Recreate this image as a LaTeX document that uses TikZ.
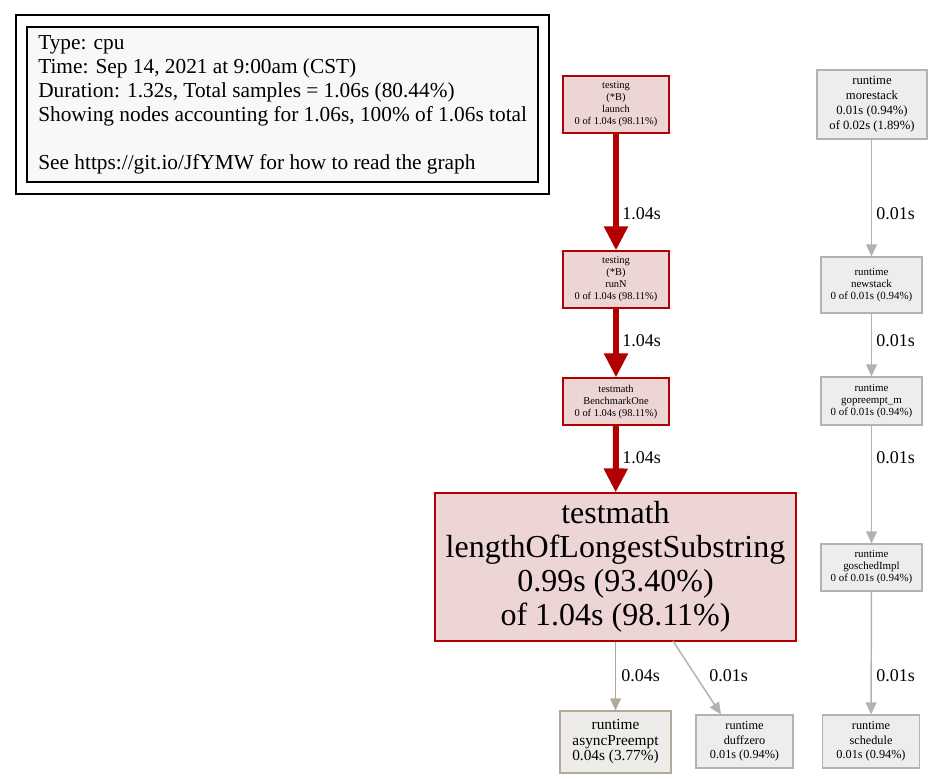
\documentclass[tikz,border=0pt]{standalone}
\usepackage{fontspec}
\setmainfont{Liberation Serif}
\usetikzlibrary{arrows.meta}

\definecolor{hotred}{HTML}{B20000}
\definecolor{hotfill}{HTML}{EDD5D5}
\definecolor{coldline}{HTML}{B2B2B2}
\definecolor{coldfill}{HTML}{EDEDED}
\definecolor{warmline}{HTML}{B2A999}
\definecolor{warmfill}{HTML}{EDECE9}
\definecolor{legendfill}{HTML}{F8F8F8}

\begin{document}
\begin{tikzpicture}[x = 0.75pt, y = -0.75pt,
	hotnode/.style  = {draw = hotred, fill = hotfill, line width = 0.8pt, align = center, inner sep = 0pt},
	coldnode/.style = {draw = coldline, fill = coldfill, line width = 0.8pt, align = center, inner sep = 0pt},
	warmnode/.style = {draw = warmline, fill = warmfill, line width = 0.8pt, align = center, inner sep = 0pt},
	hotedge/.style  = {draw = hotred, line width = 4.5pt, -{Triangle[length = 18pt, width = 17pt]}},
	coldedge/.style = {draw = coldline, line width = 1.1pt, -{Triangle[length = 9pt, width = 8pt]}},
	warmedge/.style = {draw = warmline, line width = 1.1pt, -{Triangle[length = 9pt, width = 8pt]}},
	elabel/.style   = {anchor = west, inner sep = 0pt, font = \fontsize{13.5}{16}\selectfont}]

	\useasboundingbox[fill = white] (0, 0) rectangle (933, 779);

	%%% LEGENDA %%%

	\draw[black, line width = 0.8pt] (16, 15) rectangle (549, 194);
	\node[draw = black, fill = legendfill, line width = 0.8pt, minimum width = 383.25pt, minimum height = 116.25pt, inner sep = 0pt] (legend) at (282.5, 104.5) {};
	\node[anchor = north west, align = left, inner sep = 0pt, font = \fontsize{16}{18}\selectfont] (legendtext) at (38, 35)
		{Type: cpu\\ Time: Sep 14, 2021 at 9:00am (CST)\\ Duration: 1.32s, Total samples = 1.06s (80.44\%)\\ Showing nodes accounting for 1.06s, 100\% of 1.06s total\\ \strut\\ See https://git.io/JfYMW for how to read the graph};

	%%% CAMINHO PRINCIPAL %%%

	\node[hotnode, minimum width = 79.5pt, minimum height = 42.75pt, font = \fontsize{7.8}{9}\selectfont] (launch) at (616, 104.5)
		{testing\\ (*B)\\ launch\\ 0 of 1.04s (98.11\%)};
	\node[hotnode, minimum width = 79.5pt, minimum height = 42.75pt, font = \fontsize{7.8}{9}\selectfont] (runN) at (616, 279.5)
		{testing\\ (*B)\\ runN\\ 0 of 1.04s (98.11\%)};
	\node[hotnode, minimum width = 79.5pt, minimum height = 35.25pt, font = \fontsize{7.8}{9}\selectfont] (benchone) at (616, 401.5)
		{testmath\\ BenchmarkOne\\ 0 of 1.04s (98.11\%)};
	\node[hotnode, minimum width = 270.75pt, minimum height = 111pt, font = \fontsize{24}{25.5}\selectfont] (longest) at (615.5, 567)
		{testmath\\ lengthOfLongestSubstring\\ 0.99s (93.40\%)\\ of 1.04s (98.11\%)};

	\node[warmnode, minimum width = 83.25pt, minimum height = 46.5pt, font = \fontsize{11.5}{11.6}\selectfont] (asyncpre) at (615.5, 742)
		{runtime\\ asyncPreempt\\ 0.04s (3.77\%)};
	\node[coldnode, minimum width = 72.75pt, minimum height = 39.75pt, font = \fontsize{9.2}{10.9}\selectfont] (duffzero) at (744.5, 741.5)
		{runtime\\ duffzero\\ 0.01s (0.94\%)};

	\draw[hotedge] (launch) -- (runN);
	\draw[hotedge] (runN) -- (benchone);
	\draw[hotedge] (benchone) -- (longest);
	\draw[warmedge] (longest.south -| asyncpre) -- (asyncpre);
	\draw[coldedge] (673, 641) -- (duffzero.north -| 721, 0);

	\node[elabel] at (622, 214) {1.04s};
	\node[elabel] at (622, 341) {1.04s};
	\node[elabel] at (622, 458) {1.04s};
	\node[elabel] at (621, 676) {0.04s};
	\node[elabel] at (709, 676) {0.01s};

	%%% RUNTIME %%%

	\node[coldnode, minimum width = 82.5pt, minimum height = 51.75pt, font = \fontsize{9.5}{11.25}\selectfont] (morestack) at (872, 104.5)
		{runtime\\ morestack\\ 0.01s (0.94\%)\\ of 0.02s (1.89\%)};
	\node[coldnode, minimum width = 75.75pt, minimum height = 42pt, font = \fontsize{8.2}{9}\selectfont] (newstack) at (871.5, 285)
		{runtime\\ newstack\\ 0 of 0.01s (0.94\%)};
	\node[coldnode, minimum width = 75.75pt, minimum height = 36pt, font = \fontsize{8.2}{9}\selectfont] (gopreempt) at (871.5, 401)
		{runtime\\ gopreempt\_m\\ 0 of 0.01s (0.94\%)};
	\node[coldnode, minimum width = 75.75pt, minimum height = 35.25pt, font = \fontsize{8.2}{9}\selectfont] (goschedimpl) at (871.5, 567.5)
		{runtime\\ goschedImpl\\ 0 of 0.01s (0.94\%)};
	\node[coldnode, minimum width = 72.75pt, minimum height = 39.75pt, font = \fontsize{9.2}{10.9}\selectfont] (schedule) at (871, 741.5)
		{runtime\\ schedule\\ 0.01s (0.94\%)};

	\draw[coldedge] (morestack.south -| newstack) -- (newstack);
	\draw[coldedge] (newstack) -- (gopreempt);
	\draw[coldedge] (gopreempt) -- (goschedimpl);
	\draw[coldedge] (goschedimpl) -- (schedule);

	\node[elabel] at (876, 214) {0.01s};
	\node[elabel] at (876, 341) {0.01s};
	\node[elabel] at (876, 458) {0.01s};
	\node[elabel] at (876, 676) {0.01s};

\end{tikzpicture}
\end{document}
